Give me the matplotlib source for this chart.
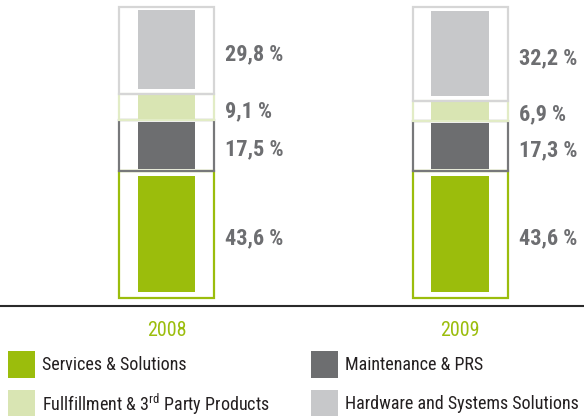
import matplotlib
matplotlib.use("Agg")
import matplotlib.pyplot as plt
from matplotlib.patches import Rectangle
import numpy as np

# ---- data ----
years = ["2008", "2009"]
segments = ["Services & Solutions", "Maintenance & PRS",
            "Fullfillment & 3$^{\\rm rd}$ Party Products", "Hardware and Systems Solutions"]
services = [43.6, 43.6]
maintenance = [17.5, 17.3]
fulfillment = [9.1, 6.9]
hardware = [29.8, 32.2]
series = [services, maintenance, fulfillment, hardware]

fill_colors = ["#9BBD0C", "#6D6E70", "#D9E5B3", "#C7C8CA"]
edge_colors = ["#9BBD0C", "#77787A", "#E2ECC6", "#D6D6D6"]

FONT = ["Roboto Condensed", "DejaVu Sans"]
plt.rcParams["font.family"] = FONT
plt.rcParams["mathtext.fontset"] = "custom"
plt.rcParams["mathtext.rm"] = "Roboto Condensed"

fig = plt.figure(figsize=(5.84, 4.16), dpi=100)
ax = fig.add_axes([0, 110 / 416, 1, 306 / 416])
ax.set_xlim(-0.567, 1.421)
ax.set_ylim(-2.75, 102.4)

x = np.arange(len(years))
outer_w = 0.323
inner_w = 0.197
bottom = np.zeros(len(years))
for vals, fc, ec in zip(series, fill_colors, edge_colors):
    vals = np.array(vals)
    ax.bar(x, vals, width=outer_w, bottom=bottom, fill=False,
           edgecolor=ec, linewidth=1.6)
    ax.bar(x, vals * 0.91, width=inner_w, bottom=bottom + vals * 0.05,
           color=fc, linewidth=0)
    for xi, b, v in zip(x, bottom, vals):
        ax.annotate(f"{v:.1f}".replace(".", ",") + " %",
                    xy=(xi + outer_w / 2, b + v / 2), xytext=(11, -4),
                    textcoords="offset pixels", ha="left", va="center",
                    fontsize=16, fontweight="bold", color="#6D6E71")
    bottom = bottom + vals

for s in ["top", "left", "right"]:
    ax.spines[s].set_visible(False)
ax.spines["bottom"].set_color("#2a2a2a")
ax.spines["bottom"].set_linewidth(1.5)
ax.set_yticks([])
ax.set_xticks(x, years)
ax.tick_params(axis="x", length=0, pad=11, labelsize=14.5, labelcolor="#9BBD0C")

# legend (manual, two columns)
leg_pos = [(8, 351), (311, 351), (8, 390), (311, 390)]
for (px, py), idx in zip(leg_pos, range(4)):
    fig.add_artist(Rectangle((px / 584, 1 - (py + 27) / 416), 27 / 584, 27 / 416,
                             transform=fig.transFigure, facecolor=fill_colors[idx],
                             edgecolor="none"))
    fig.text((px + 34) / 584, 1 - (py + 14) / 416, segments[idx],
             ha="left", va="center", fontsize=13, color="#231F20")

fig.savefig("out.png", dpi=100)
